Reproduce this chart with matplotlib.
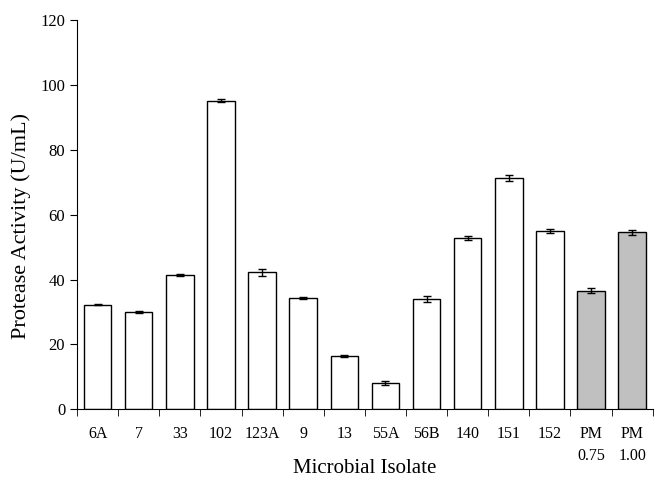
import numpy as np
import matplotlib
matplotlib.use("Agg")
import matplotlib.pyplot as plt

# protease activity per isolate
isolates = ["6A", "7", "33", "102", "123A", "9", "13", "55A", "56B",
            "140", "151", "152", "PM\n0.75", "PM\n1.00"]
activity = [32.3, 30.0, 41.3, 95.2, 42.2, 34.3, 16.4, 8.0, 34.0,
            52.7, 71.3, 55.0, 36.6, 54.6]
errors = [0.3, 0.3, 0.3, 0.4, 1.0, 0.2, 0.4, 0.6, 0.9,
          0.6, 1.0, 0.5, 0.9, 0.7]
colors = ["white"] * 12 + ["#c0c0c0"] * 2

plt.rcParams["font.family"] = ["Liberation Serif", "DejaVu Serif"]

fig = plt.figure(figsize=(6.64, 4.82), dpi=100)
ax = fig.add_axes([0.116, 0.151, 0.867, 0.807])

x = np.arange(len(isolates))
ax.bar(x, activity, width=0.67, color=colors, edgecolor="black", linewidth=1.0,
       yerr=errors, error_kw=dict(ecolor="black", elinewidth=1.0, capsize=3, capthick=1.0))

ax.set_xlim(-0.5, len(isolates) - 0.5)
ax.set_ylim(0, 120)
ax.set_yticks(range(0, 121, 20))
ax.set_xticks(x)
ax.set_xticklabels(isolates, fontsize=11.5, linespacing=1.5, va="top")
ax.set_xticks(np.arange(-0.5, len(isolates), 1), minor=True)
ax.tick_params(axis="x", which="major", length=0, pad=12)
ax.tick_params(axis="x", which="minor", length=5, direction="out")
ax.tick_params(axis="y", length=5, direction="out", labelsize=12)

for s in ["top", "right"]:
    ax.spines[s].set_visible(False)

ax.set_ylabel("Protease Activity (U/mL)", fontsize=16)
ax.yaxis.set_label_coords(-0.08, 0.47)
ax.set_xlabel("Microbial Isolate", fontsize=15)
ax.xaxis.set_label_coords(0.5, -0.127)

fig.savefig("out.png", dpi=100)
